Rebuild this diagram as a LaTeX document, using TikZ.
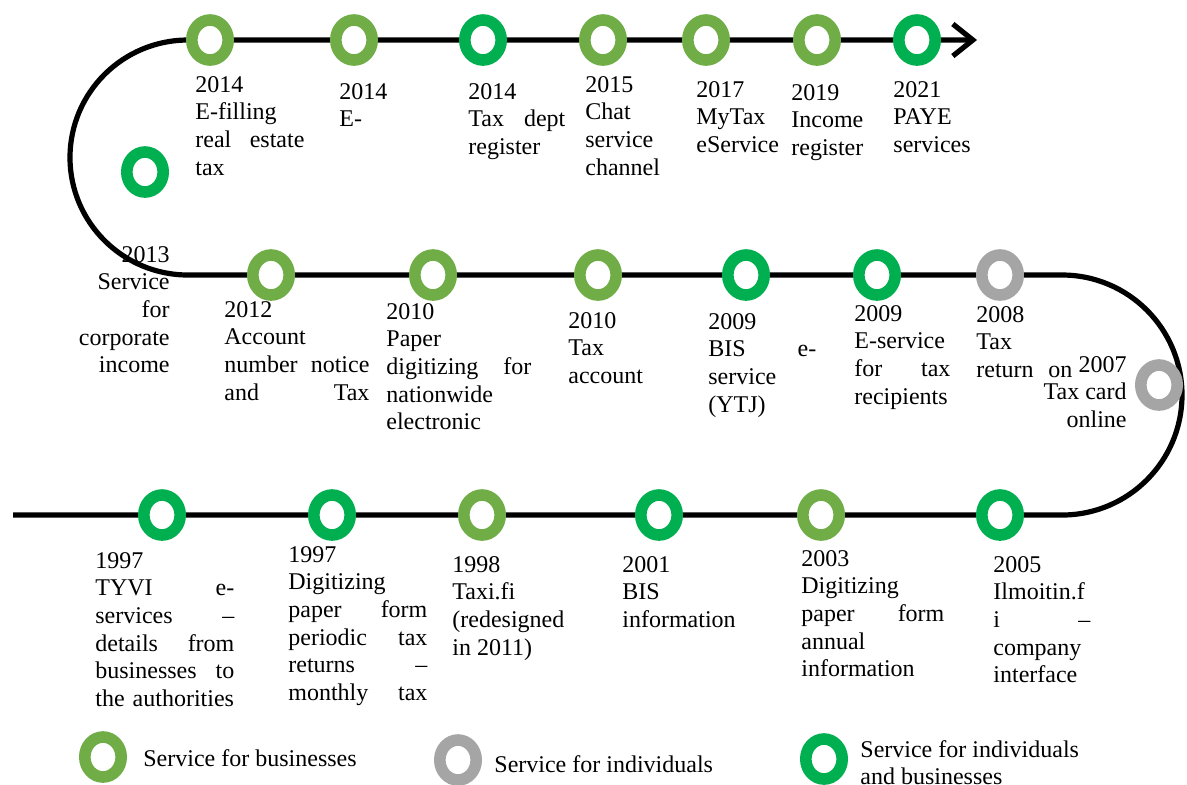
\documentclass[tikz,border=0pt]{standalone}
\usepackage{fontspec}
\setmainfont{Liberation Serif}
\usetikzlibrary{shapes.geometric,arrows.meta}
\definecolor{bizgreen}{RGB}{112,173,71}
\definecolor{bothgreen}{RGB}{0,176,80}
\definecolor{indgray}{RGB}{165,165,165}
\tikzset{
  ring/.style={shape=ellipse,draw,fill=white,line width=5.8pt,minimum width=18.2pt,minimum height=20pt,inner sep=0pt},
  biz/.style={ring,draw=bizgreen},
  ind/.style={ring,draw=indgray},
  both/.style={ring,draw=bothgreen},
  txt/.style={anchor=north west,inner sep=0pt,align=left,font=\fontsize{12}{13.8}\selectfont},
  rtxt/.style={txt,anchor=north east,align=right},
}
\begin{document}
\begin{tikzpicture}[x=0.5pt,y=-0.5pt,>={Straight Barb[length=10pt,width=16pt]}]
\useasboundingbox (0,0) rectangle (1187,784);
%%
  % Edge: timeline 1997 -> 2021
  \coordinate (start) at (13,515);
  \coordinate (botright) at (1062,515);
  \coordinate (midleft) at (188,275);
  \coordinate (tip) at (977,40);
  \draw [->,line width=2.6pt] (start) -- (botright)
    arc [start angle=-90,end angle=90,x radius=60pt,y radius=60pt] -- (midleft)
    arc [start angle=270,end angle=90,x radius=59pt,y radius=58.75pt] -- (tip);
  % Node: rings, top row
  \node [biz]  (r14a) at (210,40) {};
  \node [biz]  (r14b) at (354,40) {};
  \node [both] (r14c) at (483,40) {};
  \node [biz]  (r15)  at (603,40) {};
  \node [biz]  (r17)  at (706,40) {};
  \node [biz]  (r19)  at (817,40) {};
  \node [both] (r21)  at (917,40) {};
  \node [both] (r13)  at (145,172) {};
  % Node: rings, middle row
  \node [biz]  (r12)  at (271,275) {};
  \node [biz]  (r10a) at (433,275) {};
  \node [biz]  (r10b) at (598,275) {};
  \node [both] (r09a) at (746,275) {};
  \node [both] (r09b) at (877,275) {};
  \node [ind]  (r08)  at (1000,275) {};
  \node [ind]  (r07)  at (1159,385) {};
  % Node: rings, bottom row
  \node [both] (r97a) at (162,515) {};
  \node [both] (r97b) at (332,515) {};
  \node [biz]  (r98)  at (482,515) {};
  \node [both] (r01)  at (659,515) {};
  \node [biz]  (r03)  at (821,515) {};
  \node [both] (r05)  at (1000,515) {};
  % Node: labels, top row
  \node [txt,text width=54.5pt] (y14a) at (195,76) {2014\\E-filling\\real\hfill estate\\tax};
  \node [txt] (y14b) at (339,83) {2014\\E-};
  \node [txt,text width=48.5pt] (y14c) at (468,83) {2014\\Tax\hfill dept\\register};
  \node [txt] (y15) at (585,76) {2015\\Chat\\service\\channel};
  \node [txt] (y17) at (696,81) {2017\\MyTax\\eService};
  \node [txt] (y19) at (791,84) {2019\\Income\\register};
  \node [txt] (y21) at (893,81) {2021\\PAYE\\services};
  % Node: labels, middle row
  \node [rtxt] (y13) at (170,246) {2013\\Service\\for\\corporate\\income};
  \node [txt,text width=72.5pt] (y12) at (224,301) {2012\\Account\\number\hfill notice\\and\hfill Tax};
  \node [txt,text width=72.5pt] (y10a) at (386,303) {2010\\Paper\\digitizing\hfill for\\nationwide\\electronic};
  \node [txt] (y10b) at (568,312) {2010\\Tax\\account};
  \node [txt,text width=54pt] (y09a) at (708,313) {2009\\BIS\hfill e-\\service\\(YTJ)};
  \node [txt,text width=48pt] (y09b) at (854,305) {2009\\E-service\\for\hfill tax\\recipients};
  \node [txt,text width=48pt] (y08) at (976,306) {2008\\Tax\\return\hfill on};
  \node [rtxt] (y07) at (1127,356) {2007\\Tax card\\online};
  % Node: labels, bottom row
  \node [txt,text width=69.5pt] (y97a) at (95,552) {1997\\TYVI\hfill e-\\services\hfill --\\details\hfill from\\businesses\hfill to\\\mbox{the authorities}};
  \node [txt,text width=69.5pt] (y97b) at (288,546) {1997\\Digitizing\\paper\hfill form\\periodic\hfill tax\\returns\hfill --\\monthly\hfill tax};
  \node [txt] (y98) at (452,556) {1998\\Taxi.fi\\(redesigned\\in 2011)};
  \node [txt] (y01) at (622,556) {2001\\BIS\\information};
  \node [txt,text width=71.5pt] (y03) at (801,550) {2003\\Digitizing\\paper\hfill form\\annual\\information};
  \node [txt,text width=48.5pt] (y05) at (993,556) {2005\\Ilmoitin.f\\i\hfill --\\company\\interface};
  % Node: legend
  \node [biz]  (kbiz)  at (103,757) {};
  \node [txt,anchor=base west] (lbiz) at (143,766) {Service for businesses};
  \node [ind]  (kind)  at (458,760) {};
  \node [txt,anchor=base west] (lind) at (494,772) {Service for individuals};
  \node [both] (kboth) at (824,759) {};
  \node [txt] (lboth) at (860,740) {Service for individuals\\and businesses};
%
\end{tikzpicture}
\end{document}
